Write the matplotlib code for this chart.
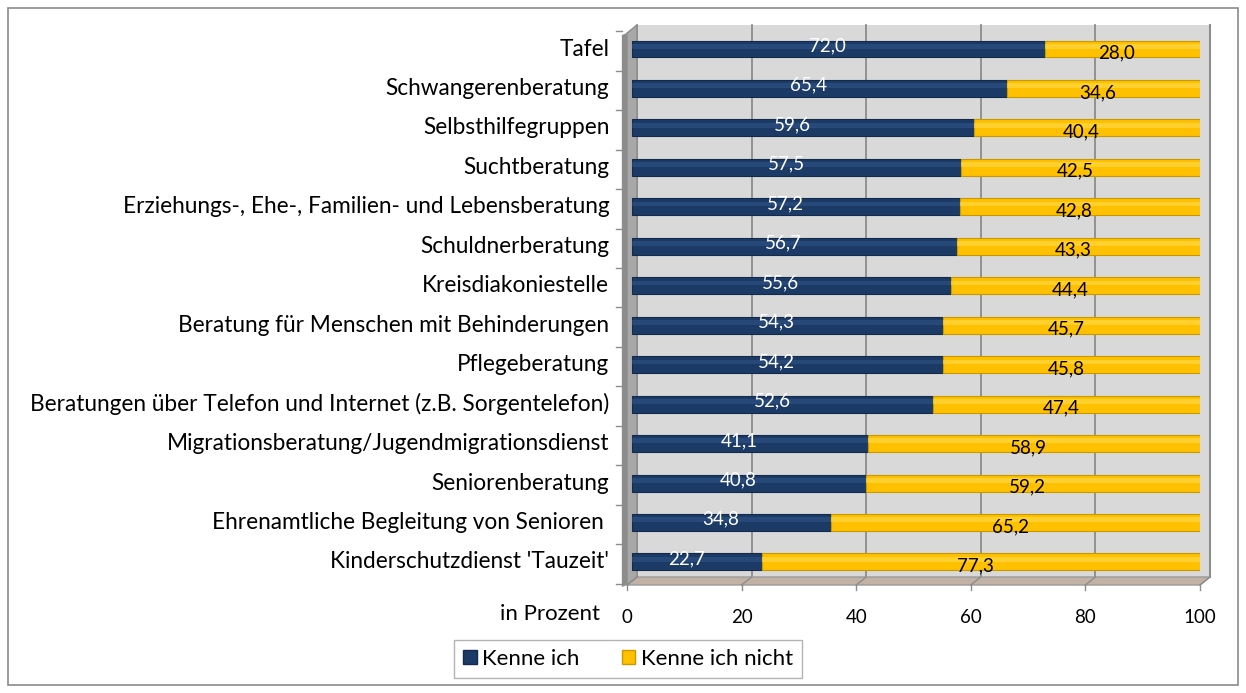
import matplotlib
matplotlib.use("Agg")
import matplotlib.pyplot as plt
from matplotlib.patches import Polygon, Rectangle, Patch
from matplotlib.transforms import ScaledTranslation

plt.rcParams["font.family"] = ["Lato", "DejaVu Sans"]

# Data
categories = [
    "Tafel",
    "Schwangerenberatung",
    "Selbsthilfegruppen",
    "Suchtberatung",
    "Erziehungs-, Ehe-, Familien- und Lebensberatung",
    "Schuldnerberatung",
    "Kreisdiakoniestelle",
    "Beratung für Menschen mit Behinderungen",
    "Pflegeberatung",
    "Beratungen über Telefon und Internet (z.B. Sorgentelefon)",
    "Migrationsberatung/Jugendmigrationsdienst",
    "Seniorenberatung",
    "Ehrenamtliche Begleitung von Senioren ",
    "Kinderschutzdienst 'Tauzeit'",
]
kenne = [72.0, 65.4, 59.6, 57.5, 57.2, 56.7, 55.6, 54.3, 54.2, 52.6, 41.1, 40.8, 34.8, 22.7]
kenne_nicht = [28.0, 34.6, 40.4, 42.5, 42.8, 43.3, 44.4, 45.7, 45.8, 47.4, 58.9, 59.2, 65.2, 77.3]
xticks = [0, 20, 40, 60, 80, 100]
series_names = ["Kenne ich", "Kenne ich nicht"]

navy = "#1b3a66"
navy_hi = "#2f5488"
yellow = "#ffc000"
yellow_hi = "#ffdb4d"

W, H = 1246, 693
fig = plt.figure(figsize=(W / 100, H / 100), dpi=100)

# outer frame
fig.patches.append(Rectangle((8 / W, 8 / H), 1230 / W, 677 / H, transform=fig.transFigure,
                             fill=False, edgecolor="#8a8a8a", linewidth=1.2))

left_px, right_px, top_px, bot_px = 627, 1200, 25, 585
ax = fig.add_axes([left_px / W, 1 - bot_px / H, (right_px - left_px) / W, (bot_px - top_px) / H])
n = len(categories)
step = 39.46
y0 = 49
ytop = (top_px - y0) / step
ybot = (bot_px - y0) / step
ax.set_xlim(0, 100)
ax.set_ylim(ybot, ytop)
ax.axis("off")

# depth offset in data units
dx = 10 * 100 / (right_px - left_px)
dy = 8 / step

# back wall
ax.add_patch(Rectangle((dx, ytop), 100, (ybot - dy) - ytop, facecolor="#d9d9d9",
                       edgecolor="none", zorder=0, clip_on=False))
ax.plot([100 + dx, 100 + dx], [ytop, ybot - dy], color="#9a9a9a", lw=1.5, zorder=1, clip_on=False)
for t in xticks:
    ax.plot([t + dx, t + dx], [ytop, ybot - dy], color="#8c8c8c", lw=1.3, zorder=1, clip_on=False)
    # floor diagonals
    ax.plot([t, t + dx], [ybot, ybot - dy], color="#8c8c8c", lw=1.0, zorder=2, clip_on=False)
    # tick marks
    ax.plot([t, t], [ybot, ybot + 0.12], color="#8c8c8c", lw=1.0, zorder=2, clip_on=False)
    ax.text(t, ybot + 0.82, str(t), ha="center", va="center", fontsize=13.5, color="black")

# floor
ax.add_patch(Polygon([(0, ybot), (100, ybot), (100 + dx, ybot - dy), (dx, ybot - dy)],
                     closed=True, facecolor="#c2b2a6", edgecolor="#9a9a9a", lw=1.0,
                     zorder=1, clip_on=False))
# left wall
ax.add_patch(Polygon([(0, ybot), (0, ytop + dy), (dx, ytop), (dx, ybot - dy)], closed=True,
                     facecolor="#a8a8a8", edgecolor="#8c8c8c", lw=1.0, zorder=1, clip_on=False))
ax.add_patch(Polygon([(-0.9, ybot + 0.05), (-0.9, ytop + dy + 0.05), (0, ytop + dy), (0, ybot)],
                     closed=True, facecolor="#8c8c8c", edgecolor="none", zorder=1, clip_on=False))
# category ticks on left edge
for i in range(n + 1):
    yy = i - 0.5 + 0.05
    ax.plot([-0.9, -1.9], [yy, yy], color="#8c8c8c", lw=1.0, clip_on=False)

# bars
ypos = list(range(n))
bar_tr = ax.transData + ScaledTranslation(5 / 100, 0, fig.dpi_scale_trans)
bh = 0.43
ax.barh(ypos, kenne, height=bh, color=navy, edgecolor="#132a4a", lw=0.8,
        transform=bar_tr, zorder=3)
ax.barh(ypos, kenne_nicht, left=kenne, height=bh, color=yellow, edgecolor="#c99a00", lw=0.8,
        transform=bar_tr, zorder=3)
# highlight strips
ax.barh([y - 0.07 for y in ypos], kenne, height=0.12, color=navy_hi, lw=0,
        transform=bar_tr, zorder=4, alpha=0.6)
ax.barh([y - 0.07 for y in ypos], [v - 0.6 for v in kenne_nicht], left=kenne, height=0.12,
        color=yellow_hi, lw=0, transform=bar_tr, zorder=4, alpha=0.6)

for i in range(n):
    a, b = kenne[i], kenne_nicht[i]
    ax.text(a / 2 - 1, i - 0.08, f"{a:.1f}".replace(".", ","), ha="center", va="center",
            color="white", fontsize=13.5, zorder=5)
    ax.text(a + b / 2 - 0.5, i + 0.1, f"{b:.1f}".replace(".", ","), ha="center", va="center",
            color="black", fontsize=13.5, zorder=5)
    ax.text(-3.1, i, categories[i], ha="right", va="center", fontsize=16.3, color="black",
            clip_on=False)

fig.text(600 / W, 1 - 614 / H, "in Prozent", ha="right", va="center", fontsize=16)

handles = [Patch(facecolor=navy, edgecolor="#132a4a"), Patch(facecolor=yellow, edgecolor="#c99a00")]
leg = fig.legend(handles, series_names, loc="center", bbox_to_anchor=(628 / W, 1 - 659 / H),
                 ncol=2, frameon=True, fancybox=False, fontsize=16, handlelength=0.6,
                 handleheight=0.6, handletextpad=0.25, columnspacing=1.9, borderpad=0.4,
                 borderaxespad=0)
leg.get_frame().set_edgecolor("#a0a0a0")
leg.get_frame().set_linewidth(1.0)

fig.savefig("out.png", dpi=100)
